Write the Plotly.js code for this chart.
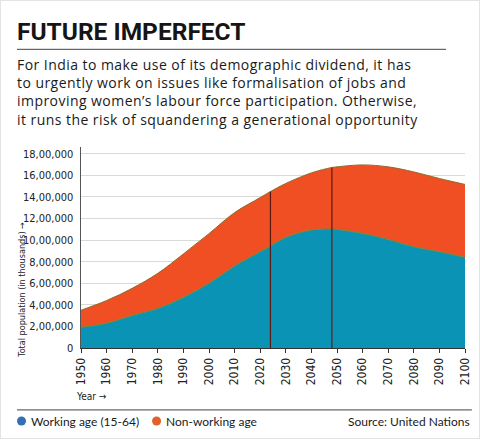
<!DOCTYPE html>
<html>
<head>
<meta charset="utf-8">
<script src="https://cdn.plot.ly/plotly-3.0.1.min.js"></script>
<style>
html,body{margin:0;padding:0;background:#fff;}
#wrap{position:relative;width:480px;height:440px;overflow:hidden;}
#frame{position:absolute;left:0;top:0;width:478px;height:437px;border:1px solid #e4e4e4;pointer-events:none;}
#chart{position:absolute;left:0;top:0;width:480px;height:440px;}
</style>
</head>
<body>
<div id="wrap"><div id="chart"></div><div id="frame"></div></div>
<script>
// Data (thousands of people)
const years      = [1950,1960,1970,1980,1990,2000,2010,2020,2024,2030,2040,2048,2050,2060,2070,2080,2090,2100];
const workingAge = [192000,229000,301000,367000,469000,599000,760000,892000,945000,1025000,1093000,1102000,1099000,1062000,1006000,938000,892000,840000];
const nonWorking = [158000,211000,252000,325000,403000,461000,495000,502000,505000,500000,530000,571000,580000,635000,673000,694000,679000,676000];
const markerYears  = [2024, 2048];
const markerTotals = [1450000, 1673000];
const yTickVals  = [0,200000,400000,600000,800000,1000000,1200000,1400000,1600000,1800000];
const yTickText  = ["0","2,00,000","4,00,000","6,00,000","8,00,000","10,00,000","12,00,000","14,00,000","16,00,000","18,00,000"];
const xTickVals  = [1950,1960,1970,1980,1990,2000,2010,2020,2030,2040,2050,2060,2070,2080,2090,2100];
const introLines = [
  "For India to make use of its demographic dividend, it has",
  "to urgently work on issues like formalisation of jobs and",
  "improving women\u2019s labour force participation. Otherwise,",
  "it runs the risk of squandering a generational opportunity"
];

const narrow = '"Liberation Sans Narrow", "DejaVu Sans Condensed", Arial, sans-serif';
const body = 'Lato, "Noto Sans", sans-serif';

const traces = [
  {x: years, y: workingAge, type:'scatter', mode:'lines', stackgroup:'pop',
   line:{shape:'spline', color:'#5f8d46', width:1}, fillcolor:'#0a93b4', name:'Working age (15-64)', hoverinfo:'skip'},
  {x: years, y: nonWorking, type:'scatter', mode:'lines', stackgroup:'pop',
   line:{shape:'spline', color:'#8d6a2a', width:1}, fillcolor:'#f04f23', name:'Non-working age', hoverinfo:'skip'}
];
markerYears.forEach((yr,i)=>{
  traces.push({x:[yr,yr], y:[0, markerTotals[i]], type:'scatter', mode:'lines',
    line:{color:'#5a1a12', width:1.2}, showlegend:false, hoverinfo:'skip'});
});

const introText = introLines.map(t => '<span style="letter-spacing:0.45px">' + t + '</span>').join('<br>');

const annotations = [
  {text:'<b>FUTURE IMPERFECT</b>', xref:'paper', yref:'paper', x:-0.172, y:1.577, xanchor:'left', yanchor:'middle',
   showarrow:false, font:{family:'Roboto, "Open Sans", sans-serif', size:24.5, color:'#151515'}},
  {text:introText, xref:'paper', yref:'paper', x:-0.172, y:1.274, xanchor:'left', yanchor:'middle', align:'left',
   showarrow:false, font:{family:'"Open Sans", Lato, sans-serif', size:14, color:'#1a1a1a'}},
  {text:'Total population (in thousands) \u2192', xref:'paper', yref:'paper', x:-0.154, y:0.289, textangle:-90,
   xanchor:'center', yanchor:'middle', showarrow:false, font:{family:narrow, size:9, color:'#222'}},
  {text:'Year \u2192', xref:'paper', yref:'paper', x:-0.018, y:-0.242, xanchor:'left', yanchor:'middle',
   showarrow:false, font:{family:narrow, size:10, color:'#222'}},
  {text:'Working age (15-64)', xref:'paper', yref:'paper', x:-0.135, y:-0.364, xanchor:'left', yanchor:'middle',
   showarrow:false, font:{family:body, size:12, color:'#1a1a1a'}},
  {text:'Non-working age', xref:'paper', yref:'paper', x:0.217, y:-0.364, xanchor:'left', yanchor:'middle',
   showarrow:false, font:{family:body, size:12, color:'#1a1a1a'}},
  {text:'Source: United Nations', xref:'paper', yref:'paper', x:1.018, y:-0.364, xanchor:'right', yanchor:'middle',
   showarrow:false, font:{family:body, size:12, color:'#1a1a1a'}}
];

const layout = {
  width:480, height:440,
  margin:{l:81, r:15, t:147, b:92},
  paper_bgcolor:'#ffffff', plot_bgcolor:'#ffffff',
  showlegend:false,
  xaxis:{range:[1950,2100], tickvals:xTickVals, ticktext:xTickVals.map(String),
    tickangle:-90, tickfont:{family:narrow, size:12, color:'#222'},
    ticks:'outside', ticklen:4, tickcolor:'#333', showgrid:false,
    showline:true, linecolor:'#333', linewidth:1, zeroline:false, fixedrange:true},
  yaxis:{range:[0,1863000], tickvals:yTickVals, ticktext:yTickText,
    tickfont:{family:narrow, size:11, color:'#222'}, ticks:'', ticklabelstandoff:4,
    showgrid:true, gridcolor:'#d9d9d9', gridwidth:1,
    showline:true, linecolor:'#555', linewidth:1.5, zeroline:false, fixedrange:true},
  shapes:[
    {type:'line', xref:'paper', yref:'paper', x0:-0.1667, x1:0.9505, y0:1.486, y1:1.486, line:{color:'#444', width:1}},
    {type:'line', xref:'paper', yref:'paper', x0:-0.1667, x1:1.018, y0:-0.308, y1:-0.308, line:{color:'#444', width:1}},
    {type:'circle', xref:'paper', yref:'paper', x0:-0.1667, x1:-0.1432, y0:-0.386, y1:-0.341, fillcolor:'#356fb3', line:{width:0}},
    {type:'circle', xref:'paper', yref:'paper', x0:0.185, x1:0.2085, y0:-0.386, y1:-0.341, fillcolor:'#e0622a', line:{width:0}}
  ],
  annotations: annotations
};
Plotly.newPlot('chart', traces, layout, {staticPlot:true, displayModeBar:false});
</script>
</body>
</html>
